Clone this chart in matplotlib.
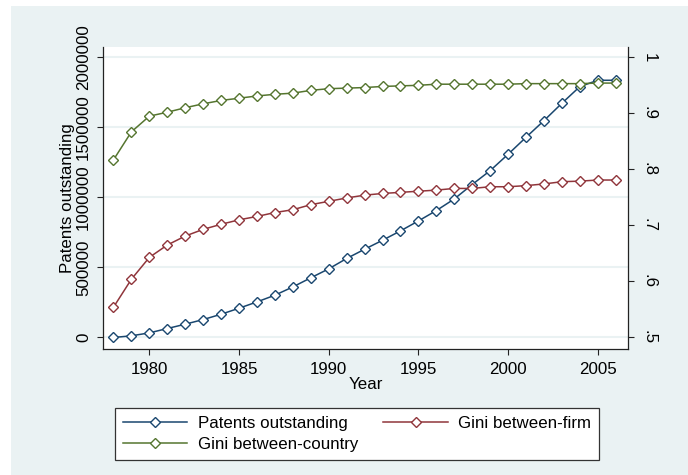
import numpy as np
import matplotlib
matplotlib.use("Agg")
import matplotlib.pyplot as plt
from matplotlib.patches import Rectangle

plt.rcParams['font.family'] = ['Liberation Sans', 'DejaVu Sans']

years = list(range(1978, 2007))

patents = [0, 12000, 33000, 64000, 95000, 128000, 166000, 209000, 254000,
           302000, 361000, 426000, 490000, 564000, 630000, 694000, 761000,
           832000, 906000, 989000, 1092000, 1191000, 1308000, 1429000,
           1548000, 1672000, 1791000, 1836000, 1836000]

gini_firm = [0.554, 0.604, 0.643, 0.665, 0.681, 0.693, 0.702, 0.710, 0.716,
             0.723, 0.728, 0.737, 0.743, 0.749, 0.754, 0.757, 0.759, 0.761,
             0.763, 0.766, 0.766, 0.769, 0.769, 0.771, 0.774, 0.778, 0.779,
             0.781, 0.781]

gini_country = [0.817, 0.867, 0.895, 0.902, 0.910, 0.917, 0.923, 0.927, 0.931,
                0.934, 0.936, 0.941, 0.944, 0.945, 0.946, 0.948, 0.949, 0.950,
                0.952, 0.952, 0.952, 0.952, 0.952, 0.953, 0.953, 0.953, 0.953,
                0.954, 0.954]

left_ticks = [0, 500000, 1000000, 1500000, 2000000]
right_ticks = [0.5, 0.6, 0.7, 0.8, 0.9, 1.0]
right_labels = ['.5', '.6', '.7', '.8', '.9', '1']
year_ticks = [1980, 1985, 1990, 1995, 2000, 2005]

navy = '#1a476f'
maroon = '#90353b'
green = '#55752f'
bg = '#eaf2f3'

fig = plt.figure(figsize=(6.88, 4.75), dpi=100)
fig.patch.set_facecolor('white')
# stata graph region (leaves a thin white strip top/left like the screenshot)
fig.patches.append(Rectangle((11 / 688, 0), 1, 1 - 6 / 475, transform=fig.transFigure,
                             facecolor=bg, edgecolor='none', zorder=-10))

ax = fig.add_axes([0.1493, 0.2653, 0.9132 - 0.1493, 0.9017 - 0.2653])
ax2 = ax.twinx()

mk = dict(marker='D', ms=4.6, mfc='white', mew=1.0, lw=1.1)
l1, = ax.plot(years, patents, color=navy, mec=navy, label='Patents outstanding', **mk)
l2, = ax2.plot(years, gini_firm, color=maroon, mec=maroon, label='Gini between-firm', **mk)
l3, = ax2.plot(years, gini_country, color=green, mec=green, label='Gini between-country', **mk)

ax.set_xlim(1977.4, 2006.7)
ax.set_ylim(-82000, 2075700)
ax2.set_ylim(0.5 - 82000 / 4e6, 0.5 + 2075700 / 4e6)

ax.set_yticks(left_ticks)
ax.set_yticklabels([str(t) for t in left_ticks], rotation=90, va='center')
ax2.set_yticks(right_ticks)
ax2.set_yticklabels(right_labels, rotation=270, va='center')
ax.set_xticks(year_ticks)

ax.grid(axis='y', color=bg, lw=1.5)
ax.set_axisbelow(True)

for a in (ax, ax2):
    a.spines['top'].set_visible(False)
    for s in a.spines.values():
        s.set_linewidth(0.9)
        s.set_color('#222222')
ax.spines['right'].set_visible(False)
ax2.spines['left'].set_visible(False)
ax2.spines['bottom'].set_visible(False)

ax.tick_params(axis='both', labelsize=12.2, length=4.5, width=0.8, color='#222222')
ax.tick_params(axis='y', pad=4)
ax.tick_params(axis='x', pad=5)
ax2.tick_params(axis='y', labelsize=12.2, length=4.5, width=0.8, color='#222222', pad=5)

ax.set_xlabel('Year', fontsize=12.2, labelpad=0)
ax.set_ylabel('Patents outstanding', fontsize=12.2, labelpad=1)

leg = fig.legend([l1, l3, l2], ['Patents outstanding', 'Gini between-country', 'Gini between-firm'],
                 ncol=2, loc='center', bbox_to_anchor=(357 / 688, 1 - 434 / 475),
                 fontsize=12.2, handlelength=3.8, handletextpad=0.6, columnspacing=1.5,
                 labelspacing=0.35, borderpad=0.5, numpoints=1, fancybox=False,
                 framealpha=1, edgecolor='#333333')
leg.get_frame().set_linewidth(0.9)

fig.savefig('out.png', dpi=100)
